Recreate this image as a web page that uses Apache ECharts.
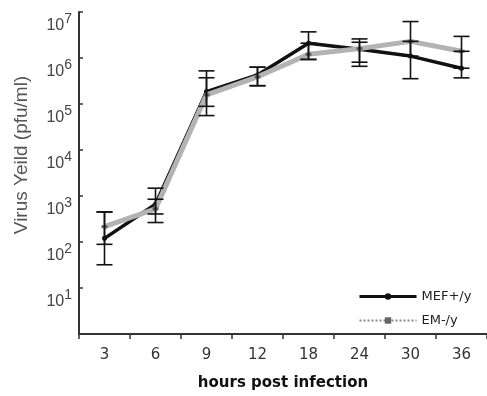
<!DOCTYPE html>
<html>
<head>
<meta charset="utf-8">
<script src="https://cdn.jsdelivr.net/npm/echarts@6/dist/echarts.min.js"></script>
<style>html,body{margin:0;padding:0;background:#fff;}#c{width:487px;height:396px;}</style>
</head>
<body>
<div id="c"></div>
<script>
const categories = ['3', '6', '9', '12', '18', '24', '30', '36'];
const mefValues = [120, 660, 186000, 427000, 2100000, 1550000, 1100000, 600000];
const mefLow    = [32, 265, 56000, 250000, 930000, 660000, 355000, 370000];
const mefHigh   = [450, 1480, 525000, 630000, 3700000, 2600000, 2300000, 1400000];
const emValues  = [215, 525, 158000, 390000, 1200000, 1600000, 2300000, 1400000];
const emLow     = [89, 407, 89000, 250000, 930000, 810000, 1100000, 600000];
const emHigh    = [450, 850, 372000, 630000, 2100000, 2200000, 6200000, 2950000];
const yTicks = [1, 10, 100, 1000, 10000, 100000, 1000000, 10000000];

function errData(low, high) {
  return categories.map((c, i) => [i, low[i], high[i]]);
}
function renderErr(params, api) {
  const i = api.value(0);
  const lo = api.coord([i, api.value(1)]);
  const hi = api.coord([i, api.value(2)]);
  const hw = 8;
  const st = { stroke: '#111', lineWidth: 1.6 };
  return {
    type: 'group',
    children: [
      { type: 'line', shape: { x1: lo[0], y1: lo[1], x2: hi[0], y2: hi[1] }, style: st },
      { type: 'line', shape: { x1: lo[0] - hw, y1: lo[1], x2: lo[0] + hw, y2: lo[1] }, style: st },
      { type: 'line', shape: { x1: hi[0] - hw, y1: hi[1], x2: hi[0] + hw, y2: hi[1] }, style: st }
    ]
  };
}

const chart = echarts.init(document.getElementById('c'));
chart.setOption({
  animation: false,
  backgroundColor: '#fff',
  grid: { left: 79, right: -5, top: 12, bottom: 57 },
  legend: {
    orient: 'vertical',
    left: 353, top: 285,
    itemWidth: 57, itemHeight: 8, itemGap: 11,
    textStyle: { fontFamily: 'DejaVu Sans', fontSize: 13, color: '#222' },
    data: [
      { name: 'MEF+/y', lineStyle: { width: 3, color: '#111' } },
      { name: 'EM-/y', lineStyle: { width: 2, color: '#888', type: 'dotted' } }
    ]
  },
  xAxis: {
    type: 'category',
    data: categories,
    boundaryGap: true,
    axisLine: { lineStyle: { color: '#333', width: 2 } },
    axisTick: { show: true, inside: false, length: 5, lineStyle: { color: '#333', width: 1.5 } },
    axisLabel: { fontFamily: 'DejaVu Sans', fontSize: 15, color: '#333', margin: 14 },
    name: 'hours post infection',
    nameLocation: 'middle',
    nameGap: 42,
    nameTextStyle: { fontFamily: 'DejaVu Sans', fontWeight: 'bold', fontSize: 15, color: '#111' }
  },
  yAxis: {
    type: 'log',
    logBase: 10,
    min: 1,
    max: 10000000,
    splitLine: { show: false },
    axisLine: { show: true, lineStyle: { color: '#333', width: 2 } },
    axisTick: { show: true, inside: true, length: 4, lineStyle: { color: '#333', width: 1.5 } },
    axisLabel: {
      showMinLabel: false,
      margin: 7,
      verticalAlign: 'top',
      formatter: function (v) {
        const e = Math.round(Math.log10(v));
        return '{b|10}{s|' + e + '}';
      },
      rich: {
        b: { fontFamily: 'Liberation Sans', fontSize: 16, color: '#444', lineHeight: 22, verticalAlign: 'bottom' },
        s: { fontFamily: 'Liberation Sans', fontSize: 14, color: '#444', verticalAlign: 'top' }
      }
    }
  },
  graphic: [{
    type: 'text',
    x: 22, y: 155,
    rotation: Math.PI / 2,
    style: {
      text: 'Virus Yeild (pfu/ml)',
      fontFamily: 'Liberation Sans',
      fontSize: 19,
      fill: '#555',
      textAlign: 'center',
      textVerticalAlign: 'middle'
    }
  }],
  series: [
    {
      name: 'MEF+/y', type: 'line', data: mefValues,
      symbol: 'circle', symbolSize: 5,
      itemStyle: { color: '#111' },
      lineStyle: { color: '#111', width: 3.5 },
      z: 2
    },
    {
      name: 'EM-/y', type: 'line', data: emValues,
      symbol: 'rect', symbolSize: [6, 3],
      itemStyle: { color: '#666' },
      lineStyle: { color: '#b3b3b3', width: 5 },
      z: 3
    },
    { type: 'custom', name: 'errMEF', renderItem: renderErr, data: errData(mefLow, mefHigh), z: 5, silent: true },
    { type: 'custom', name: 'errEM', renderItem: renderErr, data: errData(emLow, emHigh), z: 5, silent: true }
  ]
});
</script>
</body>
</html>
